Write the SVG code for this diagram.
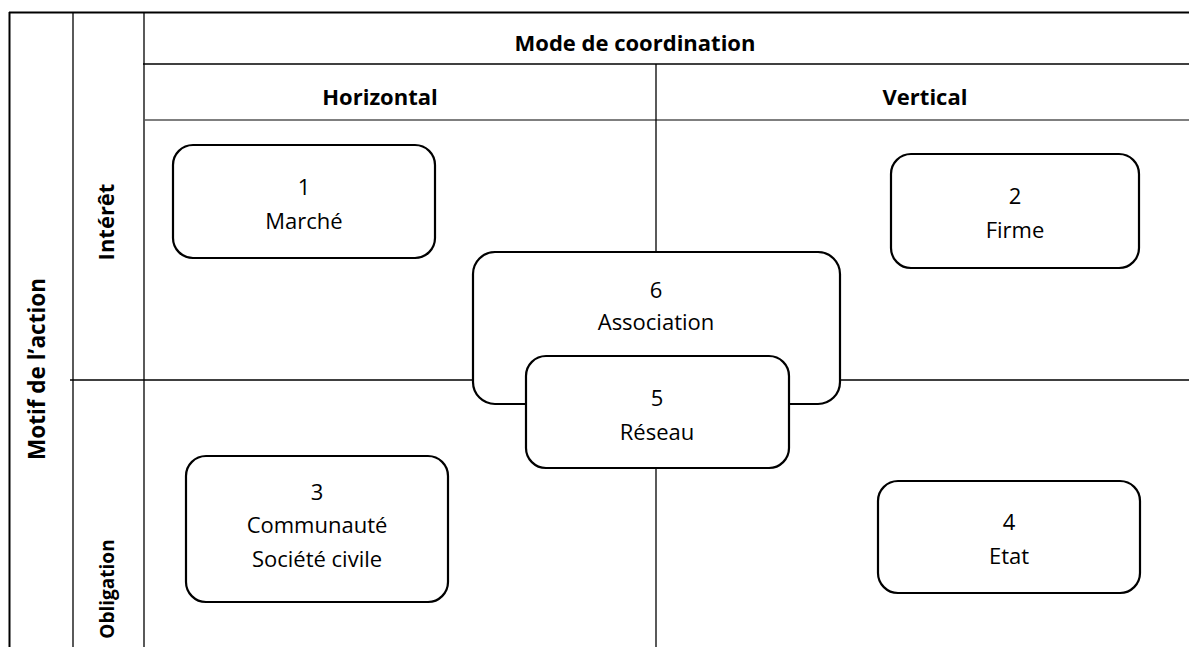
<svg xmlns="http://www.w3.org/2000/svg" width="1189" height="647" viewBox="0 0 1189 647">
<style>
.grid{stroke:#000;stroke-width:1.3;fill:none}
.box{fill:#fff;stroke:#000;stroke-width:2.2}
.t{font-family:"Open Sans","Liberation Sans",Arial,sans-serif;font-size:22px;fill:#000;text-anchor:middle}
.b{font-weight:bold}
</style>
<rect width="1189" height="647" fill="#fff"/>
<g id="grid" class="grid">
<line x1="9" y1="12.5" x2="1189" y2="12.5" stroke-width="2"/>
<line x1="9.5" y1="12" x2="9.5" y2="647" stroke-width="2"/>
<line x1="73" y1="12" x2="73" y2="647"/>
<line x1="144" y1="12" x2="144" y2="647"/>
<line x1="143" y1="64" x2="1189" y2="64"/>
<line x1="144" y1="120" x2="1189" y2="120" stroke="#555" stroke-width="1.6"/>
<line x1="656" y1="64" x2="656" y2="647"/>
<line x1="70" y1="380" x2="1189" y2="380"/>
</g>
<g id="headers">
<text class="t b" x="635" y="51">Mode de coordination</text>
<text class="t b" x="380" y="105">Horizontal</text>
<text class="t b" x="925" y="105">Vertical</text>
<text class="t b" style="font-size:22.5px" transform="translate(45,369) rotate(-90)">Motif de l’action</text>
<text class="t b" style="font-size:22px" transform="translate(114,222) rotate(-90)">Intérêt</text>
<text class="t b" style="font-size:19px" transform="translate(114,589) rotate(-90)">Obligation</text>
</g>
<g id="n1"><rect class="box" x="173" y="145" width="262" height="113" rx="20"/>
<text class="t" x="304" y="195">1</text><text class="t" x="304" y="229">Marché</text></g>
<g id="n2"><rect class="box" x="891" y="154" width="248" height="114" rx="20"/>
<text class="t" x="1015" y="204">2</text><text class="t" x="1015" y="238">Firme</text></g>
<g id="n3"><rect class="box" x="186" y="456" width="262" height="146" rx="20"/>
<text class="t" x="317" y="500">3</text><text class="t" x="317" y="533">Communauté</text><text class="t" x="317" y="567">Société civile</text></g>
<g id="n4"><rect class="box" x="878" y="481" width="262" height="112" rx="20"/>
<text class="t" x="1009" y="530">4</text><text class="t" x="1009" y="564">Etat</text></g>
<g id="n6"><rect class="box" x="473" y="252" width="367" height="152" rx="22"/>
<text class="t" x="656" y="298">6</text><text class="t" x="656" y="330">Association</text></g>
<g id="n5"><rect class="box" x="526" y="356" width="263" height="112" rx="20"/>
<text class="t" x="657" y="406">5</text><text class="t" x="657" y="440">Réseau</text></g>
</svg>
